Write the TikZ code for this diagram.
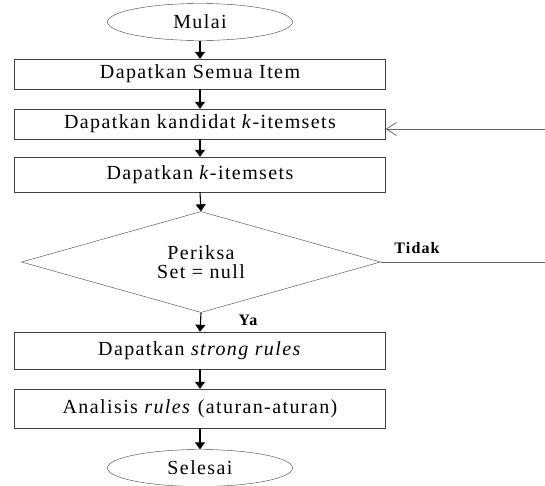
\documentclass[tikz,border=0pt]{standalone}
\usepackage{fontspec}
\setmainfont{Liberation Serif}[LetterSpace=7]
\usepackage{tikz}
\usetikzlibrary{shapes, arrows.meta, positioning}

\begin{document}
\begin{tikzpicture}
  [
    x=1pt, y=-1pt,
    Oval/.style={ellipse, draw=black!75, minimum width=185pt, minimum height=37pt, inner sep=0pt, font=\fontsize{20}{22}\selectfont},
    Box/.style={rectangle, draw=black!75, minimum width=371pt, inner sep=0pt, font=\fontsize{20}{22}\selectfont},
    Choice/.style={diamond, aspect=3.5, draw=black!75, minimum width=359pt, minimum height=101pt, inner sep=0pt, align=center, font=\fontsize{20}{19}\selectfont},
    Tag/.style={font=\bfseries\fontsize{16}{18}\selectfont},
    Flow/.style={-{Triangle[length=7pt, width=10pt]}, draw, line width=1.1pt},
    Back/.style={-{Straight Barb[length=10pt, width=13pt]}, draw=black!60, line width=0.8pt}
  ]
  \useasboundingbox (0,0) rectangle (545,485);
  % Nodes
  \node[Oval] (n0) at (200, 22) {Mulai};
  \node[Box, minimum height=30pt] (n1) at (200, 74) {Dapatkan Semua Item};
  \node[Box, minimum height=30pt] (n2) at (200, 124) {Dapatkan kandidat \textit{k}-itemsets};
  \node[Box, minimum height=35pt] (n3) at (200, 174.5) {Dapatkan \textit{k}-itemsets};
  \node[Choice] (n4) at (201, 262) {Periksa\\Set = null};
  \node[Box, minimum height=37pt] (n5) at (200, 350.5) {Dapatkan \textit{strong rules}};
  \node[Box, minimum height=39pt] (n6) at (200, 408.5) {Analisis \textit{rules} (aturan-aturan)};
  \node[Oval] (n7) at (200, 468) {Selesai};
  \node[Tag] (ya) at (248, 320) {Ya};
  \node[Tag] (tidak) at (417, 248) {Tidak};
  \coordinate (c0) at (545, 262);
  \coordinate (c1) at (545, 129);
  % Lines
  \path [Flow] (n0) -- (n1);
  \path [Flow] (n1) -- (n2);
  \path [Flow] (n2) -- (n3);
  \path [Flow] (n3.south) -- (n4.north);
  \path [Flow] (n4.south) -- (n5.north);
  \path [Flow] (n5) -- (n6);
  \path [Flow] (n6) -- (n7);
  \path [draw=black!60, line width=0.8pt] (n4.east) -- (c0);
  \path [Back] (c1) -- (c1 -| n2.east);
\end{tikzpicture}
\end{document}
